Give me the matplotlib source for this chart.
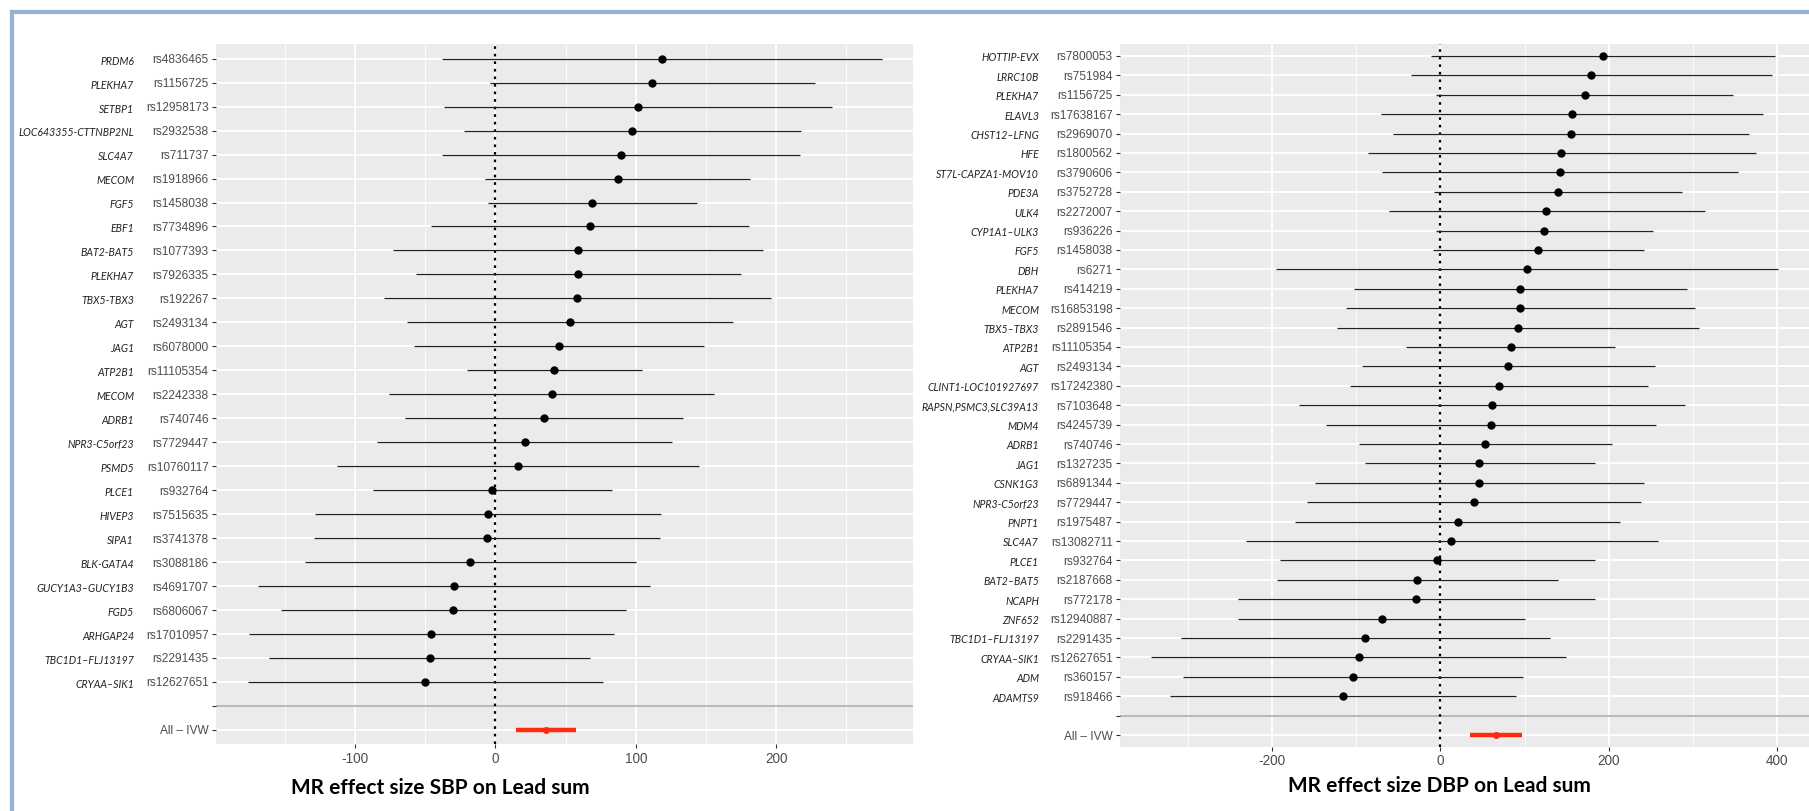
import numpy as np
import matplotlib.pyplot as plt
from matplotlib.lines import Line2D
from matplotlib import transforms

# ---- data: SBP panel ----
left_genes = ["PRDM6", "PLEKHA7", "SETBP1", "LOC643355-CTTNBP2NL", "SLC4A7", "MECOM", "FGF5",
              "EBF1", "BAT2-BAT5", "PLEKHA7", "TBX5-TBX3", "AGT", "JAG1", "ATP2B1", "MECOM",
              "ADRB1", "NPR3-C5orf23", "PSMD5", "PLCE1", "HIVEP3", "SIPA1", "BLK-GATA4",
              "GUCY1A3\u2013GUCY1B3", "FGD5", "ARHGAP24", "TBC1D1\u2013FLJ13197", "CRYAA\u2013SIK1"]
left_rs = ["rs4836465", "rs1156725", "rs12958173", "rs2932538", "rs711737", "rs1918966",
           "rs1458038", "rs7734896", "rs1077393", "rs7926335", "rs192267", "rs2493134",
           "rs6078000", "rs11105354", "rs2242338", "rs740746", "rs7729447", "rs10760117",
           "rs932764", "rs7515635", "rs3741378", "rs3088186", "rs4691707", "rs6806067",
           "rs17010957", "rs2291435", "rs12627651"]
left_beta = [118.4, 111.7, 101.3, 97.5, 89.4, 87.1, 69.0, 67.1, 58.8, 58.6, 58.1, 53.1, 45.3,
             41.8, 40.1, 34.9, 20.9, 15.9, -2.1, -5.5, -5.9, -17.8, -29.7, -30.1, -45.5,
             -46.6, -50.1]
left_lo = [-37.9, -3.5, -36.8, -22.1, -37.9, -7.4, -4.9, -46.0, -72.5, -56.7, -79.3, -62.7,
           -58.0, -20.4, -75.7, -64.0, -84.2, -112.8, -86.9, -128.6, -129.2, -135.4, -168.9,
           -152.6, -175.5, -160.8, -176.3]
left_hi = [275.0, 227.5, 239.9, 217.6, 216.6, 181.5, 143.5, 180.3, 190.3, 174.6, 196.0, 169.4,
           148.5, 104.2, 155.9, 133.6, 125.5, 145.0, 82.8, 117.9, 117.4, 100.4, 109.8, 93.2,
           84.7, 67.4, 76.4]
left_ivw = (36.3, 14.9, 57.7)  # estimate, lower, upper

# ---- data: DBP panel ----
right_genes = ["HOTTIP-EVX", "LRRC10B", "PLEKHA7", "ELAVL3", "CHST12\u2013LFNG", "HFE",
               "ST7L-CAPZA1-MOV10", "PDE3A", "ULK4", "CYP1A1\u2013ULK3", "FGF5", "DBH", "PLEKHA7",
               "MECOM", "TBX5\u2013TBX3", "ATP2B1", "AGT", "CLINT1-LOC101927697",
               "RAPSN,PSMC3,SLC39A13", "MDM4", "ADRB1", "JAG1", "CSNK1G3", "NPR3-C5orf23",
               "PNPT1", "SLC4A7", "PLCE1", "BAT2\u2013BAT5", "NCAPH", "ZNF652",
               "TBC1D1\u2013FLJ13197", "CRYAA\u2013SIK1", "ADM", "ADAMTS9"]
right_rs = ["rs7800053", "rs751984", "rs1156725", "rs17638167", "rs2969070", "rs1800562",
            "rs3790606", "rs3752728", "rs2272007", "rs936226", "rs1458038", "rs6271",
            "rs414219", "rs16853198", "rs2891546", "rs11105354", "rs2493134", "rs17242380",
            "rs7103648", "rs4245739", "rs740746", "rs1327235", "rs6891344", "rs7729447",
            "rs1975487", "rs13082711", "rs932764", "rs2187668", "rs772178", "rs12940887",
            "rs2291435", "rs12627651", "rs360157", "rs918466"]
right_beta = [192.7, 178.4, 171.3, 156.7, 154.7, 143.6, 142.0, 139.7, 125.8, 123.0, 115.9, 102.5,
              95.0, 94.6, 91.8, 83.5, 79.9, 69.2, 61.3, 59.7, 53.4, 46.3, 45.9, 40.0, 20.6, 13.1,
              -4.0, -28.1, -28.9, -69.6, -89.0, -96.9, -103.6, -116.0]
right_lo = [-11.1, -35.2, -5.1, -70.0, -56.6, -86.6, -69.2, -7.5, -61.3, -5.1, -8.3, -195.8,
            -102.1, -111.6, -123.1, -40.4, -93.4, -107.6, -167.7, -135.7, -96.5, -89.8, -148.4,
            -157.9, -172.5, -231.5, -191.1, -194.7, -240.2, -240.2, -307.8, -343.4, -305.9,
            -321.3]
right_hi = [397.6, 393.7, 348.2, 383.8, 366.8, 374.7, 353.3, 287.6, 313.8, 252.0, 241.3, 401.6,
            293.2, 301.9, 307.8, 207.3, 254.8, 246.9, 290.4, 255.6, 203.4, 183.2, 241.7, 238.2,
            213.3, 258.4, 183.2, 139.7, 183.2, 100.9, 130.2, 149.2, 98.1, 89.4]
right_ivw = (66.1, 34.8, 97.3)

left_major = [-100, 0, 100, 200]
left_minor = [-150, -50, 50, 150, 250]
right_major = [-200, 0, 200, 400]
right_minor = [-300, -100, 100, 300]

W, H = 1809, 811
fig = plt.figure(figsize=(W / 100, H / 100), dpi=100)

GRAY30 = "#4d4d4d"


def forest(box, genes, rs, beta, lo, hi, ivw, major, minor, gene_x, title, title_xy):
    x0, y0, x1, y1 = box  # pixel box, y from top
    ax = fig.add_axes([x0 / W, 1 - y1 / H, (x1 - x0) / W, (y1 - y0) / H])
    ax.set_facecolor("#ebebeb")
    n = len(genes)
    npos = n + 2
    ypos = np.arange(npos)[::-1]  # top row highest
    y_snp = ypos[:n]
    y_sep = ypos[n]
    y_ivw = ypos[n + 1]

    # ggplot-like 5% expansion
    xmin, xmax = min(lo), max(hi)
    pad = 0.05 * (xmax - xmin)
    ax.set_xlim(xmin - pad, xmax + pad)
    ax.set_ylim(-0.6, npos - 1 + 0.6)

    # grid
    for v in minor:
        ax.axvline(v, color="white", lw=0.6, zorder=0)
    for v in major:
        ax.axvline(v, color="white", lw=1.3, zorder=0)
    for v in ypos:
        ax.axhline(v, color="white", lw=1.3, zorder=0)
    ax.axhline(y_sep, color="#b3b3b3", lw=1.3, zorder=1)

    ax.axvline(0, color="black", ls=(0, (1.2, 2.2)), lw=1.6, zorder=2)

    ax.hlines(y_snp, lo, hi, color="#222222", lw=0.9, zorder=3)
    ax.plot(beta, y_snp, "o", color="black", ms=5, zorder=4)

    ax.hlines(y_ivw, ivw[1], ivw[2], color="#ff2a0f", lw=3.2, zorder=3)
    ax.plot([ivw[0]], [y_ivw], "o", color="#ff2a0f", ms=4, zorder=4)

    ax.set_xticks(major)
    ax.set_xticklabels([str(v) for v in major])
    ax.set_yticks(ypos)
    ax.set_yticklabels(list(rs) + ["", "All \u2013 IVW"])
    ax.tick_params(axis="both", length=2.75, width=0.8, color="#333333",
                   labelcolor=GRAY30, pad=2.5)
    ax.tick_params(axis="y", labelsize=8.6)
    ax.tick_params(axis="x", labelsize=9.8)
    for lab in ax.get_yticklabels() + ax.get_xticklabels():
        lab.set_family("Liberation Sans")
    for s in ax.spines.values():
        s.set_visible(False)

    trans = transforms.blended_transform_factory(fig.transFigure, ax.transData)
    for g, yy in zip(genes, y_snp):
        ax.text(gene_x / W, yy - 0.1, g, transform=trans, ha="right", va="center",
                style="italic", family="Lato", fontsize=7.6, color="#222222")

    fig.text(title_xy[0] / W, 1 - title_xy[1] / H, title, ha="center", va="center",
             family="Lato", weight="bold", fontsize=15, color="black")
    return ax


forest((216, 44.3, 913.3, 744.3), left_genes, left_rs, left_beta, left_lo, left_hi, left_ivw,
       left_major, left_minor, 134, "MR effect size SBP on Lead sum", (440, 788))
forest((1120, 44.3, 1809.8, 746.7), right_genes, right_rs, right_beta, right_lo, right_hi,
       right_ivw, right_major, right_minor, 1039, "MR effect size DBP on Lead sum", (1439, 786))

# light blue frame around the figure (right and bottom edges fall outside the crop)
frame = "#95b3d7"
fig.add_artist(Line2D([12 / W, 12 / W], [1 - 12 / H, -0.05], transform=fig.transFigure,
                      color=frame, lw=3))
fig.add_artist(Line2D([12 / W, 1.05], [1 - 12 / H, 1 - 12 / H], transform=fig.transFigure,
                      color=frame, lw=3))

fig.savefig("out.png", dpi=100)
